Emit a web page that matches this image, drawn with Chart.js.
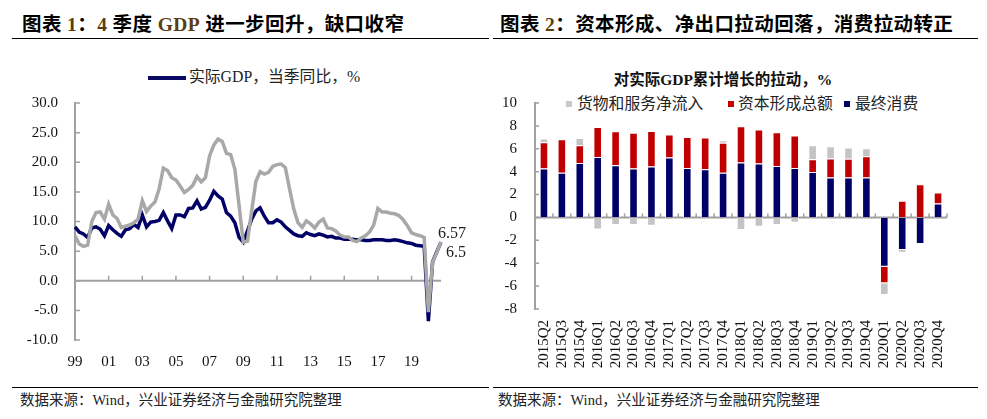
<!DOCTYPE html>
<html>
<head>
<meta charset="utf-8">
<script src="https://cdn.jsdelivr.net/npm/chart.js@4.4.1/dist/chart.umd.min.js"></script>
<style>
  body { margin: 0; width: 987px; height: 419px; background: #fff; position: relative; overflow: hidden;
         font-family: "Liberation Serif", "Noto Sans CJK SC", serif; color: #111; }
  .abs { position: absolute; white-space: nowrap; }
  .ttl { top: 12px; font-size: 19.5px; line-height: 26px; font-weight: bold; color: #000; letter-spacing: 0.4px; }
  .ttl b { color: #5c3d10; }
  .rule { position: absolute; height: 0; border-top: 1.5px solid #000; }
  .src { top: 392px; font-size: 14.5px; line-height: 17px; color: #222; }
  .lg { font-size: 15.8px; line-height: 18px; color: #222; }
  .sq { position: absolute; width: 6px; height: 6px; }
</style>
</head>
<body>
<div class="abs ttl" style="left:22px">图表 <b>1</b>：<b>4</b> 季度 <b>GDP</b> 进一步回升，缺口收窄</div>
<div class="abs ttl" style="left:500px">图表 <b>2</b>：资本形成、净出口拉动回落，消费拉动转正</div>
<div class="rule" style="left:12px;width:477px;top:38px"></div>
<div class="rule" style="left:493px;width:485px;top:38px"></div>

<!-- left legend -->
<div class="abs" style="left:148px;top:76px;width:38px;height:3.5px;background:#0a0a64"></div>
<div class="abs lg" style="left:189px;top:68px">实际GDP，当季同比，%</div>

<!-- right title + legend -->
<div class="abs" style="left:723px;top:70px;transform:translateX(-50%);font-size:15.5px;line-height:20px;font-weight:bold">对实际GDP累计增长的拉动，%</div>
<div class="sq" style="left:566px;top:101px;background:#c8c8c8"></div>
<div class="abs lg" style="left:577px;top:95px">货物和服务净流入</div>
<div class="sq" style="left:728px;top:101px;background:#c00000"></div>
<div class="abs lg" style="left:738px;top:95px">资本形成总额</div>
<div class="sq" style="left:844px;top:101px;background:#000066"></div>
<div class="abs lg" style="left:855px;top:95px">最终消费</div>

<canvas id="c1" width="490" height="335" style="position:absolute;left:0;top:45px"></canvas>
<canvas id="c2" width="497" height="335" style="position:absolute;left:490px;top:45px"></canvas>

<div class="rule" style="left:12px;width:477px;top:387px;border-top-width:1px"></div>
<div class="rule" style="left:493px;width:485px;top:387px;border-top-width:1px"></div>
<div class="abs src" style="left:20px">数据来源：Wind，兴业证券经济与金融研究院整理</div>
<div class="abs src" style="left:498px">数据来源：Wind，兴业证券经济与金融研究院整理</div>

<script>
// ---- chart 1 data: quarterly, 1999Q1 - 2020Q4 ----
const years = [1999, 2000, 2001, 2002, 2003, 2004, 2005, 2006, 2007, 2008, 2009,
               2010, 2011, 2012, 2013, 2014, 2015, 2016, 2017, 2018, 2019, 2020];
const quarters = [];
years.forEach(y => ['Q1', 'Q2', 'Q3', 'Q4'].forEach(q => quarters.push(y + q)));

// 实际GDP，当季同比
const realGdp = [
  9.1, 8.2, 7.9, 7.3,   8.9, 9.1, 8.7, 7.6,   9.3, 8.6, 8.0, 7.5,   8.6, 8.8, 9.5, 9.0,
  11.1, 9.1, 9.9, 10.0, 10.2, 11.5, 10.1, 8.8, 11.1, 11.1, 10.8, 12.2, 12.3, 13.5, 12.1, 12.4,
  13.6, 15.1, 14.3, 13.8, 11.5, 10.9, 9.8, 7.3, 6.5, 8.4, 10.4, 11.8, 12.3, 10.9, 9.8, 9.8,
  10.3, 9.9, 9.1, 8.5,  7.9, 7.6, 7.5, 8.1,   7.8, 7.6, 7.9, 7.7,   7.4, 7.5, 7.2, 7.2,
  7.0, 7.0, 7.0, 6.9,   6.9, 6.8, 6.8, 6.9,   6.9, 6.9, 6.8, 6.8,   6.9, 6.8, 6.6, 6.4,
  6.3, 6.0, 5.9, 5.8,   -6.8, 3.2, 4.9, 6.5
];
// 名义GDP，当季同比 (grey, unlabelled)
const nominalGdp = [
  7.6, 6.2, 5.8, 6.0,   10.0, 11.5, 11.6, 10.4, 12.9, 11.1, 10.5, 9.0,  9.2, 9.4, 9.8, 10.4,
  13.5, 11.7, 12.6, 13.3, 15.5, 19.0, 18.6, 17.4, 17.0, 16.0, 14.9, 15.4, 16.1, 17.6, 16.7, 17.4,
  21.1, 22.9, 23.9, 23.5, 21.5, 21.3, 18.8, 12.7, 6.5, 6.7, 11.8, 16.8, 18.4, 18.0, 18.3, 19.3,
  19.6, 19.7, 19.1, 15.5, 12.1, 9.8, 9.0, 10.1, 9.6, 8.9, 9.9, 10.4,  8.9, 8.8, 8.4, 7.7,
  7.4, 7.4, 6.8, 6.6,   7.2, 7.6, 8.2, 9.4,   12.2, 11.6, 11.6, 11.4, 11.3, 11.0, 10.3, 9.3,
  8.1, 7.8, 7.6, 7.3,   -5.3, 3.1, 4.8, 6.57
];
const yTicks1 = { min: -10, max: 30, step: 5 };

// ---- chart 2 data: contribution to cumulative real GDP growth ----
const periods = ['2015Q2', '2015Q3', '2015Q4', '2016Q1', '2016Q2', '2016Q3', '2016Q4',
                 '2017Q1', '2017Q2', '2017Q3', '2017Q4', '2018Q1', '2018Q2', '2018Q3', '2018Q4',
                 '2019Q1', '2019Q2', '2019Q3', '2019Q4', '2020Q1', '2020Q2', '2020Q3', '2020Q4'];
const consumption = [4.28, 3.9, 4.76, 5.29, 4.56, 4.27, 4.45, 5.23, 4.33, 4.21, 3.9, 4.8,
                     4.71, 4.5, 4.33, 3.98, 3.49, 3.49, 3.49, -4.31, -2.85, -2.33, 1.22];
const capital = [2.29, 2.93, 1.55, 2.62, 2.97, 3.14, 3.11, 2.01, 2.71, 2.77, 2.62, 3.17,
                 2.97, 2.94, 2.82, 1.11, 1.66, 1.63, 1.86, -1.45, 1.45, 2.9, 0.96];
const netExports = [0.33, 0, 0.64, -1.05, -0.67, -0.67, -0.73, -0.23, 0, 0, 0.23, -1.1,
                    -0.82, -0.67, -0.47, 1.22, 1.07, 0.99, 0.7, -1.02, -0.24, 0, 0];
const yTicks2 = { min: -8, max: 10, step: 2 };

const NAVY = '#000066', RED = '#c00000', BAR_GREY = '#c4c4c4', LINE_GREY = '#a8a8a8';
const AXIS = '#a0a0a0', TEXT = '#111';

Chart.defaults.font.family = '"Liberation Serif", "Noto Sans CJK SC", serif';
Chart.defaults.font.size = 15;
Chart.defaults.color = TEXT;

// zero line + inward tick marks, positions taken from the scales
function axisMarks(xTickPixels, len) {
  return {
    id: 'axisMarks',
    beforeDatasetsDraw(chart) {
      const { ctx, chartArea: a, scales: { x, y } } = chart;
      const y0 = y.getPixelForValue(0);
      ctx.save();
      ctx.strokeStyle = AXIS;
      ctx.lineWidth = 2;
      ctx.beginPath();
      ctx.moveTo(a.left, y0);
      ctx.lineTo(a.right, y0);
      ctx.stroke();
      ctx.lineWidth = 1.5;
      ctx.beginPath();
      y.ticks.forEach(t => {
        const py = y.getPixelForValue(t.value);
        ctx.moveTo(a.left, py);
        ctx.lineTo(a.left + len, py);
      });
      xTickPixels(x).forEach(px => {
        ctx.moveTo(px, y0);
        ctx.lineTo(px, y0 - len);
      });
      ctx.stroke();
      ctx.restore();
    }
  };
}

const isYearTick = i => quarters[i].endsWith('Q1') && parseInt(quarters[i]) % 2 === 1;

// labels at the end of the two lines
const endLabels = {
  id: 'endLabels',
  afterDatasetsDraw(chart) {
    const { ctx } = chart;
    const g = chart.getDatasetMeta(0).data.at(-1);
    const r = chart.getDatasetMeta(1).data.at(-1);
    ctx.save();
    ctx.fillStyle = '#222';
    ctx.font = '16px "Liberation Serif", serif';
    ctx.textBaseline = 'middle';
    ctx.fillText(nominalGdp.at(-1).toString(), g.x - 3, g.y - 8);
    ctx.fillText(realGdp.at(-1).toString(), r.x + 5, r.y + 11);
    ctx.restore();
  }
};

new Chart(document.getElementById('c1'), {
  type: 'line',
  data: {
    labels: quarters,
    datasets: [
      { label: '名义GDP', data: nominalGdp, borderColor: LINE_GREY, borderWidth: 3.5, pointRadius: 0, tension: 0 },
      { label: '实际GDP，当季同比，%', data: realGdp, borderColor: NAVY, borderWidth: 3.5, pointRadius: 0, tension: 0 }
    ]
  },
  options: {
    responsive: false,
    animation: false,
    layout: { padding: { top: 58, right: 49, left: 0, bottom: 0 } },
    plugins: { legend: { display: false }, tooltip: { enabled: false } },
    scales: {
      x: {
        offset: false,
        grid: { display: false, drawTicks: false },
        border: { display: false },
        afterFit: s => { s.height = 40; },
        ticks: {
          autoSkip: false, maxRotation: 0, padding: 13,
          callback: (v) => isYearTick(v) ? quarters[v].slice(2, 4) : ''
        }
      },
      y: {
        min: yTicks1.min, max: yTicks1.max,
        grid: { drawOnChartArea: false, drawTicks: false },
        border: { display: true, color: AXIS, width: 2 },
        afterFit: s => { s.width = 75; },
        ticks: { stepSize: yTicks1.step, padding: 17, callback: v => v.toFixed(1) }
      }
    }
  },
  plugins: [axisMarks(x => quarters.map((q, i) => i).filter(isYearTick).map(i => x.getPixelForValue(i)), 5), endLabels]
});

new Chart(document.getElementById('c2'), {
  type: 'bar',
  data: {
    labels: periods,
    datasets: [
      { label: '最终消费', data: consumption, backgroundColor: NAVY },
      { label: '资本形成总额', data: capital, backgroundColor: RED },
      { label: '货物和服务净流入', data: netExports, backgroundColor: BAR_GREY }
    ]
  },
  options: {
    responsive: false,
    animation: false,
    datasets: { bar: { borderColor: '#fff', borderWidth: 1, categoryPercentage: 1, barPercentage: 0.48 } },
    layout: { padding: { top: 58, right: 40, left: 0, bottom: 0 } },
    plugins: { legend: { display: false }, tooltip: { enabled: false } },
    scales: {
      x: {
        stacked: true,
        grid: { display: false, drawTicks: false },
        border: { display: false },
        afterFit: s => { s.height = 71; },
        ticks: { autoSkip: false, minRotation: 90, maxRotation: 90, padding: 11 }
      },
      y: {
        stacked: true,
        min: yTicks2.min, max: yTicks2.max,
        grid: { drawOnChartArea: false, drawTicks: false },
        border: { display: true, color: AXIS, width: 2 },
        afterFit: s => { s.width = 45; },
        ticks: { stepSize: yTicks2.step, padding: 18 }
      }
    }
  },
  plugins: [axisMarks(x => {
    const w = x.width / periods.length;
    return periods.map((p, i) => x.getPixelForValue(i) - w / 2).concat([x.right]);
  }, 4)]
});
</script>
</body>
</html>
